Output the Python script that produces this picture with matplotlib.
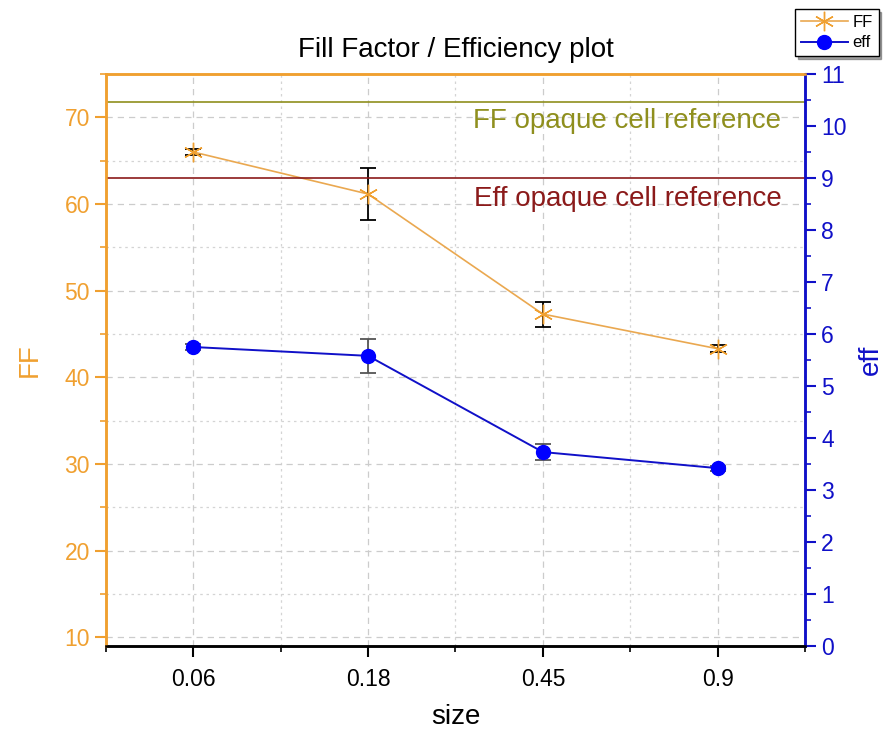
import numpy as np
import matplotlib.pyplot as plt
from matplotlib.ticker import MultipleLocator

plt.rcParams['font.family'] = ['Liberation Sans', 'DejaVu Sans']

# data
sizes = ['0.06', '0.18', '0.45', '0.9']
ff = [66.0, 61.15, 47.3, 43.3]
ff_err = [0.4, 3.0, 1.45, 0.4]
eff = [5.75, 5.58, 3.73, 3.42]
eff_err = [0.05, 0.33, 0.16, 0.05]
ff_ref = 71.8
eff_ref = 9.0

c_ff = '#f0a030'
c_ffl = '#eaa850'
c_eff = '#1010c8'
c_ffref = '#8f8f1e'
c_effref = '#8b1a1a'

fig = plt.figure(figsize=(8.83, 7.33), dpi=100)
ax = fig.add_axes([0.120, 0.1187, 0.7917, 0.7803])
ax2 = ax.twinx()

x = np.arange(len(sizes))

# grid
ax.set_axisbelow(True)
ax.grid(which='major', axis='both', color='#cccccc', linestyle=(0, (5, 4)), linewidth=0.9)
ax.grid(which='minor', axis='both', color='#d4d4d4', linestyle=(0, (2, 3)), linewidth=0.9)

# FF
ax.axhline(ff_ref, color=c_ffref, linewidth=1.2, zorder=2)
ax.errorbar(x, ff, yerr=ff_err, color=c_ffl, ecolor='black', elinewidth=1.3,
            capsize=6, capthick=1.3, linewidth=1.2, zorder=3, fmt='none')
ax.plot(x, ff, color=c_ffl, linewidth=1.2, marker=(6, 2, 0), markersize=14,
        markeredgecolor=c_ff, markeredgewidth=1.0, zorder=4, label='FF')
ax.text(3.365, 69.6, 'FF opaque cell reference', color=c_ffref, fontsize=20,
        ha='right', va='center')

# eff
ax2.axhline(eff_ref, color=c_effref, linewidth=1.2, zorder=2)
ax2.errorbar(x, eff, yerr=eff_err, fmt='none', ecolor='#555555', elinewidth=1.3,
             capsize=6, capthick=1.3, zorder=3)
ax2.plot(x, eff, color=c_eff, linewidth=1.4, marker='o', markersize=10,
         markerfacecolor='#0000ff', markeredgecolor='#0000ff', zorder=4, label='eff')
ax2.text(3.365, 8.6, 'Eff opaque cell reference', color=c_effref, fontsize=20,
         ha='right', va='center')

ax.set_xlim(-0.5, 3.5)
ax.set_ylim(9, 75)
ax2.set_ylim(0, 11)

ax.set_xticks(x)
ax.set_xticklabels(sizes)
ax.xaxis.set_minor_locator(MultipleLocator(0.5))
ax.yaxis.set_major_locator(MultipleLocator(10))
ax.yaxis.set_minor_locator(MultipleLocator(5))
ax2.yaxis.set_major_locator(MultipleLocator(1))
ax2.yaxis.set_minor_locator(MultipleLocator(0.5))

ax.tick_params(axis='x', which='major', direction='out', length=8, width=1.5,
               labelsize=16.5, pad=8)
ax.tick_params(axis='x', which='minor', direction='out', length=4, width=1.2)
ax.tick_params(axis='y', which='major', direction='out', length=8, width=1.5,
               colors=c_ff, labelsize=16.5)
ax.tick_params(axis='y', which='minor', direction='out', length=4, width=1.2, colors=c_ff)
ax2.tick_params(axis='y', which='major', direction='out', length=8, width=1.5,
                colors=c_eff, labelsize=16.5)
ax2.tick_params(axis='y', which='minor', direction='out', length=4, width=1.2, colors=c_eff)

for a in (ax, ax2):
    a.spines['left'].set_color(c_ff)
    a.spines['right'].set_color(c_eff)
    a.spines['top'].set_color(c_ff)
    a.spines['bottom'].set_color('black')
    for s in a.spines.values():
        s.set_linewidth(1.8)

ax.set_xlabel('size', fontsize=20, labelpad=9)
ax.set_ylabel('FF', fontsize=20, color=c_ff, labelpad=16)
ax2.set_ylabel('eff', fontsize=20, color=c_eff, labelpad=8)
ax.set_title('Fill Factor / Efficiency plot', fontsize=20, pad=12)

h1, l1 = ax.get_legend_handles_labels()
h2, l2 = ax2.get_legend_handles_labels()
leg = fig.legend(h1 + h2, l1 + l2, loc='upper right', bbox_to_anchor=(0.995, 0.988),
                 fontsize=12, frameon=True, fancybox=False, shadow=True,
                 borderpad=0.35, labelspacing=0.35, handlelength=2.8, handletextpad=0.3,
                 borderaxespad=0)
leg.get_frame().set_edgecolor('black')
leg.get_frame().set_linewidth(1.0)

fig.savefig('out.png', dpi=100)
